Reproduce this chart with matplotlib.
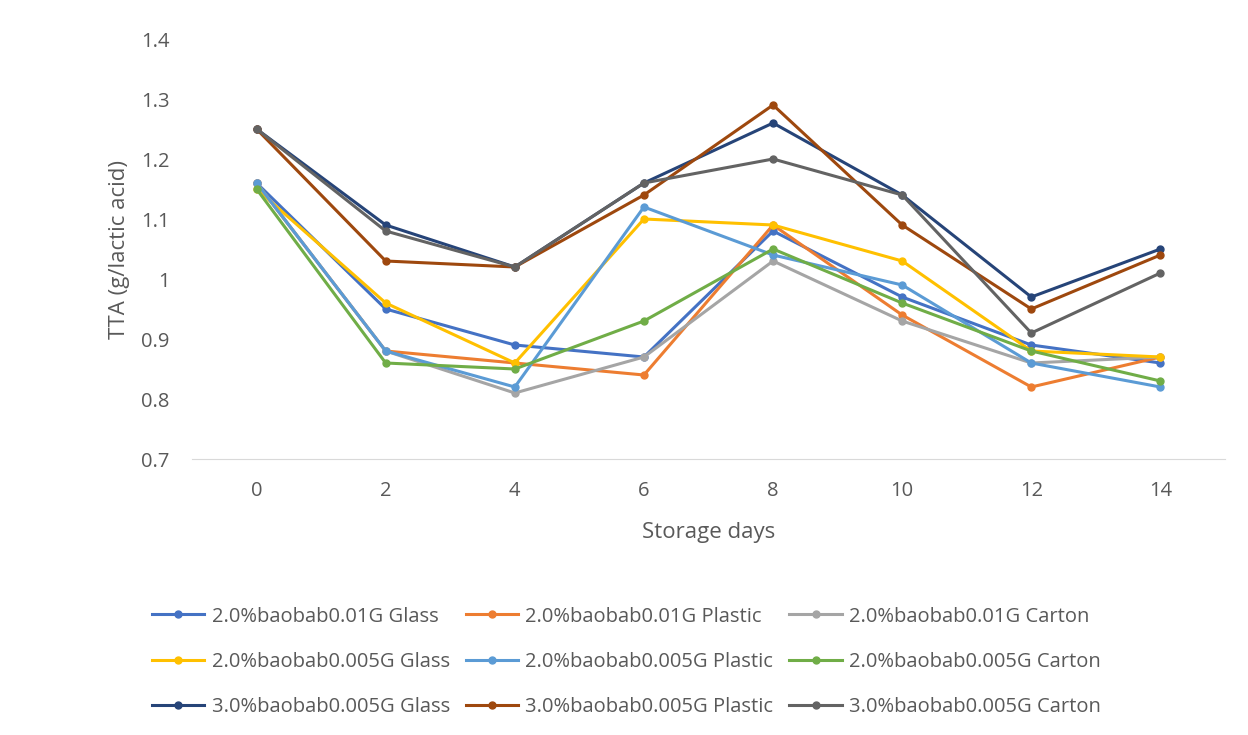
import matplotlib.pyplot as plt

days = ['0', '2', '4', '6', '8', '10', '12', '14']

labels = [
    '2.0%baobab0.01G Glass', '2.0%baobab0.01G Plastic', '2.0%baobab0.01G Carton',
    '2.0%baobab0.005G Glass', '2.0%baobab0.005G Plastic', '2.0%baobab0.005G Carton',
    '3.0%baobab0.005G Glass', '3.0%baobab0.005G Plastic', '3.0%baobab0.005G Carton',
]

g1_glass = [1.16, 0.95, 0.89, 0.87, 1.08, 0.97, 0.89, 0.86]
g1_plastic = [1.16, 0.88, 0.86, 0.84, 1.09, 0.94, 0.82, 0.87]
g1_carton = [1.16, 0.88, 0.81, 0.87, 1.03, 0.93, 0.86, 0.87]
g2_glass = [1.15, 0.96, 0.86, 1.10, 1.09, 1.03, 0.88, 0.87]
g2_plastic = [1.16, 0.88, 0.82, 1.12, 1.04, 0.99, 0.86, 0.82]
g2_carton = [1.15, 0.86, 0.85, 0.93, 1.05, 0.96, 0.88, 0.83]
g3_glass = [1.25, 1.09, 1.02, 1.16, 1.26, 1.14, 0.97, 1.05]
g3_plastic = [1.25, 1.03, 1.02, 1.14, 1.29, 1.09, 0.95, 1.04]
g3_carton = [1.25, 1.08, 1.02, 1.16, 1.20, 1.14, 0.91, 1.01]

series = [g1_glass, g1_plastic, g1_carton, g2_glass, g2_plastic, g2_carton,
          g3_glass, g3_plastic, g3_carton]
colors = ['#4472C4', '#ED7D31', '#A5A5A5', '#FFC000', '#5B9BD5', '#70AD47',
          '#264478', '#9E480E', '#636363']

plt.rcParams['font.family'] = ['Open Sans', 'DejaVu Sans']

fig = plt.figure(figsize=(12.48, 7.35), dpi=100)
ax = fig.add_axes([192 / 1248, 1 - 459 / 735, (1225 - 192) / 1248, (459 - 39) / 735])

x = list(range(len(days)))
lines = []
for vals, lab, col in zip(series, labels, colors):
    ln, = ax.plot(x, vals, color=col, marker='o', markersize=5, linewidth=2.2, label=lab)
    lines.append(ln)

ax.set_xlim(-0.5, len(days) - 0.5)
ax.set_ylim(0.7, 1.4)
ax.set_xticks(x)
ax.set_xticklabels(days)
ax.set_yticks([0.7, 0.8, 0.9, 1.0, 1.1, 1.2, 1.3, 1.4])
ax.set_yticklabels(['0.7', '0.8', '0.9', '1', '1.1', '1.2', '1.3', '1.4'])
ax.tick_params(length=0, labelsize=14.5, colors='#595959')
ax.tick_params(axis='y', pad=16)
ax.tick_params(axis='x', pad=16)
for s in ['top', 'right', 'left']:
    ax.spines[s].set_visible(False)
ax.spines['bottom'].set_color('#D9D9D9')

ax.set_xlabel('Storage days', fontsize=16, color='#595959', labelpad=15)
ax.set_ylabel('TTA (g/lactic acid)', fontsize=16, color='#595959', labelpad=8)

# legend is filled row by row, matplotlib fills columns first
order = [0, 3, 6, 1, 4, 7, 2, 5, 8]
fig.legend([lines[i] for i in order], [labels[i] for i in order],
           loc='lower left', bbox_to_anchor=(134 / 1248, 0.0), ncol=3, frameon=False,
           fontsize=14.5, labelcolor='#595959', handlelength=2.6, handletextpad=0.35,
           columnspacing=0.8, labelspacing=1.25)

fig.savefig('out.png', dpi=100)
